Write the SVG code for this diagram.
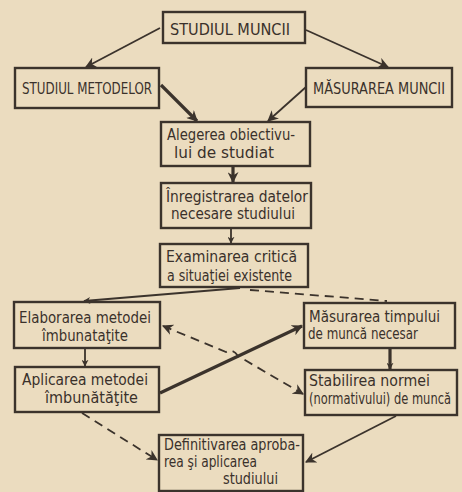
<svg xmlns="http://www.w3.org/2000/svg" width="462" height="492" viewBox="0 0 462 492">
<style>
.box{fill:none;stroke:#3b332c;stroke-width:2.4}
.t{font-family:"DejaVu Sans Condensed","Liberation Sans Narrow","Liberation Sans",sans-serif;fill:#3a312b;font-size:15px}
.c{fill:none;stroke:#3b332c;stroke-width:1.8}
.thick{stroke-width:3.2}
.d{stroke-dasharray:9 6}
</style>
<defs>
<marker id="a" viewBox="0 0 10 10" refX="9" refY="5" markerWidth="7" markerHeight="7" orient="auto-start-reverse" markerUnits="userSpaceOnUse">
<path d="M0,0 L10,5 L0,10 L3,5 Z" fill="#3b332c"/>
</marker>
<marker id="b" viewBox="0 0 10 10" refX="9" refY="5" markerWidth="11" markerHeight="11" orient="auto-start-reverse" markerUnits="userSpaceOnUse">
<path d="M0,0 L10,5 L0,10 L3,5 Z" fill="#3b332c"/>
</marker>
</defs>
<rect width="462" height="492" fill="#ebdcbf"/>
<g id="connectors">
<line class="c" x1="160" y1="28" x2="86" y2="67" marker-end="url(#b)"/>
<line class="c" x1="306" y1="30" x2="388" y2="67" marker-end="url(#b)"/>
<line class="c thick" x1="161" y1="85" x2="197" y2="121" marker-end="url(#b)"/>
<line class="c" x1="306" y1="87" x2="268" y2="121" marker-end="url(#b)"/>
<line class="c thick" x1="233" y1="166" x2="233" y2="182" marker-end="url(#b)"/>
<line class="c" x1="231" y1="228" x2="231" y2="243" marker-end="url(#a)"/>
<line class="c" x1="240" y1="288" x2="84" y2="301" marker-end="url(#a)"/>
<line class="c d" x1="250" y1="290" x2="387" y2="301"/>
<line class="c" x1="85" y1="348" x2="85" y2="366" marker-end="url(#a)"/>
<line class="c thick" x1="160" y1="393" x2="302" y2="326" marker-end="url(#b)"/>
<path class="c d" d="M163,326 L226,352 Q233,348 238,356 L303,394" marker-start="url(#b)" marker-end="url(#b)"/>
<line class="c thick" x1="390" y1="348" x2="390" y2="369" marker-end="url(#a)"/>
<line class="c" x1="396" y1="416" x2="306" y2="462" marker-end="url(#b)"/>
<line class="c d" x1="82" y1="413" x2="157" y2="460" marker-end="url(#b)"/>
</g>
<g id="n1"><rect class="box" x="163" y="12" width="142" height="31"/><text class="t" x="170" y="35" textLength="120" lengthAdjust="spacingAndGlyphs" font-size="14">STUDIUL  MUNCII</text></g>
<g id="n2"><rect class="box" x="15" y="68" width="144" height="40"/><text class="t" x="22" y="94" textLength="130" lengthAdjust="spacingAndGlyphs">STUDIUL METODELOR</text></g>
<g id="n3"><rect class="box" x="306" y="68" width="146" height="39"/><text class="t" x="313" y="94" textLength="132" lengthAdjust="spacingAndGlyphs">MĂSURAREA MUNCII</text></g>
<g id="n4"><rect class="box" x="161" y="122" width="149" height="44"/><text class="t" x="167" y="140" textLength="128" lengthAdjust="spacingAndGlyphs">Alegerea obiectivu-</text><text class="t" x="174" y="158" textLength="100" lengthAdjust="spacingAndGlyphs" font-size="14">lui  de studiat</text></g>
<g id="n5"><rect class="box" x="161" y="183" width="150" height="45"/><text class="t" x="166" y="202" textLength="142" lengthAdjust="spacingAndGlyphs">Înregistrarea datelor</text><text class="t" x="171" y="219" textLength="124" lengthAdjust="spacingAndGlyphs">necesare studiului</text></g>
<g id="n6"><rect class="box" x="160" y="244" width="148" height="43"/><text class="t" x="166" y="262" textLength="131" lengthAdjust="spacingAndGlyphs">Examinarea critică</text><text class="t" x="167" y="281" textLength="125" lengthAdjust="spacingAndGlyphs" font-size="14">a situaţiei existente</text></g>
<g id="n7"><rect class="box" x="14" y="302" width="146" height="46"/><text class="t" x="19" y="323" textLength="132" lengthAdjust="spacingAndGlyphs" font-size="16">Elaborarea metodei</text><text class="t" x="42" y="341" textLength="86" lengthAdjust="spacingAndGlyphs" font-size="16">îmbunataţite</text></g>
<g id="n8"><rect class="box" x="304" y="303" width="151" height="45"/><text class="t" x="309" y="322" textLength="131" lengthAdjust="spacingAndGlyphs">Măsurarea timpului</text><text class="t" x="308" y="339" textLength="110" lengthAdjust="spacingAndGlyphs" font-size="14">de muncă necesar</text></g>
<g id="n9"><rect class="box" x="15" y="367" width="144" height="45"/><text class="t" x="22" y="385" textLength="126" lengthAdjust="spacingAndGlyphs" font-size="16">Aplicarea metodei</text><text class="t" x="45" y="403" textLength="93" lengthAdjust="spacingAndGlyphs">îmbunătăţite</text></g>
<g id="n10"><rect class="box" x="305" y="370" width="152" height="45"/><text class="t" x="309" y="386" textLength="121" lengthAdjust="spacingAndGlyphs">Stabilirea normei</text><text class="t" x="309" y="404" textLength="142" lengthAdjust="spacingAndGlyphs" font-size="12">(normativului) de muncă</text></g>
<g id="n11"><rect class="box" x="159" y="435" width="144" height="56"/><text class="t" x="164" y="450" textLength="136" lengthAdjust="spacingAndGlyphs">Definitivarea aproba-</text><text class="t" x="164" y="467" textLength="93" lengthAdjust="spacingAndGlyphs">rea şi aplicarea</text><text class="t" x="223" y="484" textLength="55" lengthAdjust="spacingAndGlyphs">studiului</text></g>
</svg>
